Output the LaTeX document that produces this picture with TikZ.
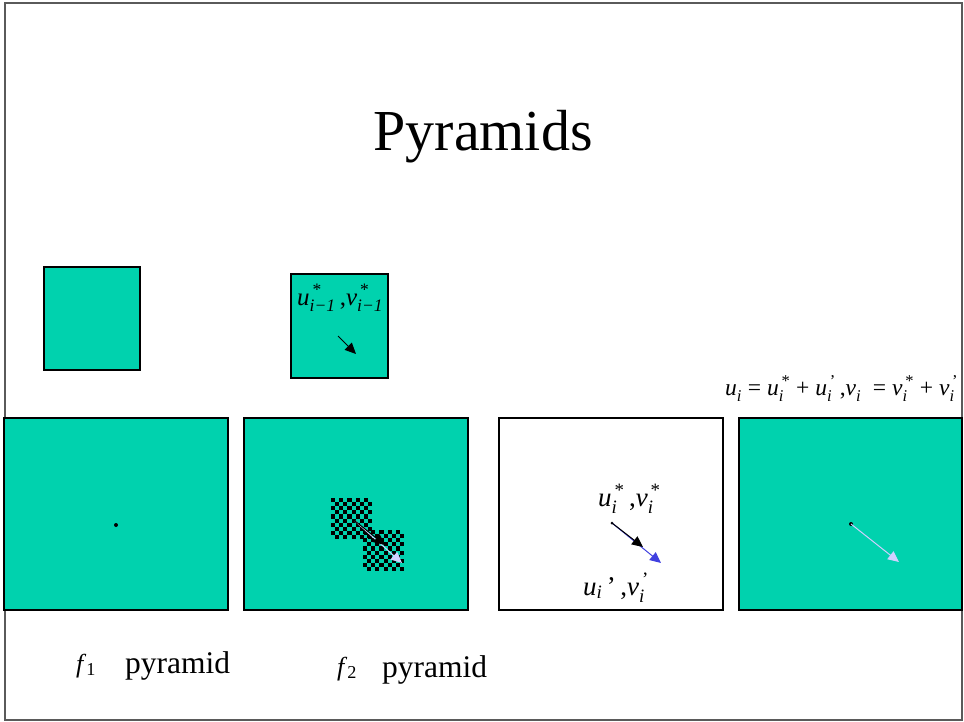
\documentclass[tikz,border=0pt]{standalone}
\usepackage{fontspec}
\setmainfont{Liberation Serif}
\usepackage{amsmath}
\usepackage{graphicx}
\usetikzlibrary{arrows.meta}
\definecolor{tealfill}{RGB}{0,210,174}
\definecolor{lav}{RGB}{208,208,255}
\definecolor{bluearr}{RGB}{64,64,224}
\definecolor{framegray}{RGB}{90,90,90}
\newcommand{\uvs}[3]{\textit{#1}$^{\,\text{\upshape #2}}_{\text{\itshape #3}}$}
\begin{document}
\begin{tikzpicture}[x=1pt,y=-1pt,
  panel/.style={draw=black,line width=1.2pt,fill=tealfill,inner sep=0pt},
  whitepanel/.style={draw=black,line width=1.2pt,fill=white,inner sep=0pt},
  lbl/.style={inner sep=0pt,anchor=base west},
  blackarrow/.style={draw=black,line width=1pt,-{Triangle[length=11pt,width=10pt]}},
  lavarrow/.style={draw=lav,line width=1pt,-{Triangle[length=11pt,width=10pt]}},
  bluearrow/.style={draw=bluearr,line width=1pt,-{Triangle[length=11pt,width=10pt]}},
  dotc/.style={circle,fill=black,inner sep=0pt,minimum size=4pt}]
\useasboundingbox (0,0) rectangle (964,721);
\draw[framegray,line width=1.5pt] (5,3) rectangle (962,720);

% title
\node[inner sep=0pt,anchor=base] (title) at (483,150) {\fontsize{58}{64}\selectfont Pyramids};

% small boxes
\node[panel,minimum width=96pt,minimum height=103pt] (s1) at (92,318.5) {};
\node[panel,minimum width=97pt,minimum height=104pt] (s2) at (339.5,326) {};
\node[lbl] (s2lab) at (297,305) {\fontsize{25}{29}\selectfont \uvs{u}{*}{i−1}\,,\uvs{v}{*}{i−1}};
\coordinate (s2a) at (338,336);
\coordinate (s2b) at (356,354);
\draw[blackarrow] (s2a) -- (s2b);

% big panels
\node[panel,minimum width=224pt,minimum height=192pt] (p1) at (116,514) {};
\node[panel,minimum width=224pt,minimum height=192pt] (p2) at (356,514) {};
\node[whitepanel,minimum width=224pt,minimum height=192pt] (p3) at (611,514) {};
\node[panel,minimum width=223pt,minimum height=192pt] (p4) at (850.5,514) {};

% panel 1 dot
\node[dotc] (d1) at (116,525) {};

% panel 2 checkerboards
\foreach \ox/\oy in {331/498, 363/530}{
  \foreach \i in {0,...,9}{
    \foreach \j in {0,...,9}{
      \pgfmathtruncatemacro{\parity}{mod(\i+\j,2)}
      \ifnum\parity=0
        \fill[black] (\ox+\i*4.1,\oy+\j*4.1) rectangle ++(4.1,4.1);
      \fi
    }
  }
}
\coordinate (p2a) at (355,521);
\coordinate (p2b) at (385,545);
\coordinate (p2c) at (402,563);
\draw[lavarrow] (p2a) -- (p2c);
\draw[blackarrow] (p2a) -- (p2b);

% panel 3
\node[lbl] (p3top) at (598,506) {\fontsize{27}{31}\selectfont \uvs{u}{*}{i}\,,\uvs{v}{*}{i}};
\node[lbl] (p3bot) at (583,595) {\fontsize{27}{31}\selectfont \textit{u}$_{\text{\itshape i}}$\,'\,,\uvs{v}{'}{i}};
\node[dotc,minimum size=3pt] (d3) at (612,523) {};
\coordinate (p3b) at (643,547);
\coordinate (p3c) at (661,563);
\draw[bluearrow] (d3.center) -- (p3c);
\draw[blackarrow] (d3.center) -- (p3b);

% panel 4
\node[dotc] (d4) at (851,524) {};
\coordinate (p4c) at (899,562);
\draw[lavarrow] (d4.center) -- (p4c);

% formula
\node[lbl] (formula) at (725,395) {\resizebox{233pt}{!}{\fontsize{25}{29}\selectfont \uvs{u}{}{i} = \uvs{u}{*}{i} + \uvs{u}{'}{i}\,,\uvs{v}{}{i}\ \ = \uvs{v}{*}{i} + \uvs{v}{'}{i}}};

% bottom labels
\node[lbl] (f1) at (76,672) {\fontsize{26}{30}\selectfont \textit{f}$_{\text{1}}$};
\node[lbl] (py1) at (125,673) {\fontsize{31.5}{36}\selectfont pyramid};
\node[lbl] (f2) at (337,675) {\fontsize{26}{30}\selectfont \textit{f}$_{\text{2}}$};
\node[lbl] (py2) at (382,677) {\fontsize{31.5}{36}\selectfont pyramid};
\end{tikzpicture}
\end{document}
